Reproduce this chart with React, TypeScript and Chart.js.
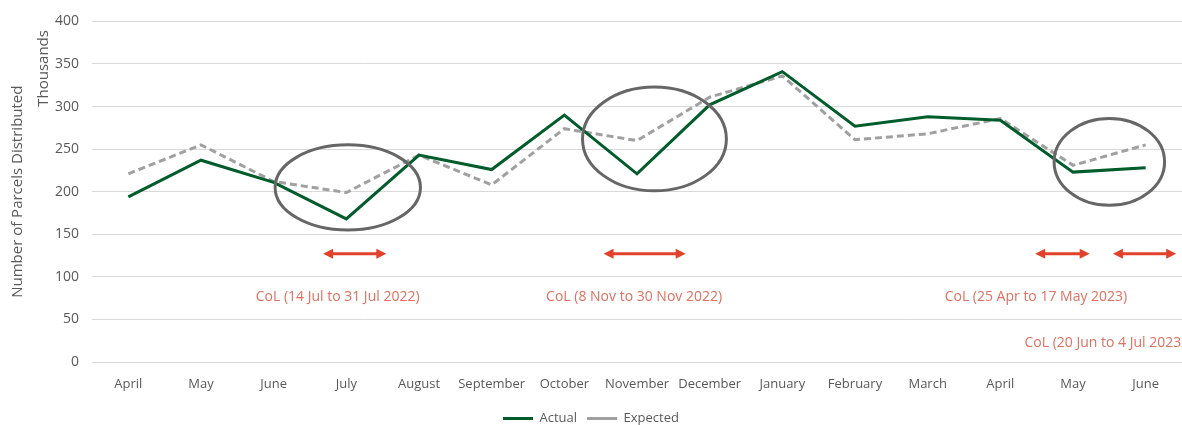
import React, { useEffect, useRef } from "react";
import { Chart, registerables } from "chart.js";

Chart.register(...registerables);

const categories = ["April", "May", "June", "July", "August", "September", "October", "November", "December", "January", "February", "March", "April", "May", "June"];
const actual = [194, 237, 211, 168, 243, 226, 290, 221, 302, 341, 277, 288, 284, 223, 228];
const expected = [221, 255, 212, 199, 243, 208, 274, 260, 311, 336, 261, 268, 286, 231, 255];
const yTicks = [0, 50, 100, 150, 200, 250, 300, 350, 400];

// annotations in data units: x = category index, y = value
const circles = [
  { cx: 3.02, cy: 205, rx: 1.0, ry: 50 },
  { cx: 7.24, cy: 262, rx: 0.99, ry: 61 },
  { cx: 13.5, cy: 235, rx: 0.76, ry: 51 },
];
const arrows = [
  { x1: 2.68, x2: 3.55, y: 127 },
  { x1: 6.54, x2: 7.67, y: 127 },
  { x1: 12.48, x2: 13.23, y: 127 },
  { x1: 13.55, x2: 14.42, y: 127 },
];
const notes = [
  { text: "CoL (14 Jul to 31 Jul 2022)", x: 2.88, y: 76, align: "center" },
  { text: "CoL (8 Nov to 30 Nov 2022)", x: 6.96, y: 76, align: "center" },
  { text: "CoL (25 Apr to 17 May 2023)", x: 12.49, y: 76, align: "center" },
  { text: "CoL (20 Jun to 4 Jul 2023", x: 14.49, y: 22, align: "right" },
];

const GREEN = "#005c2a";
const GREY = "#a0a0a0";
const TEXT = "#595959";
const RED = "#e2412a";
const NOTE = "#e0705f";
const FONT = "'Open Sans', 'Noto Sans', sans-serif";

const annotationPlugin = {
  id: "colAnnotations",
  afterDatasetsDraw(chart: any) {
    const ctx = chart.ctx;
    const xs = chart.scales.x;
    const ys = chart.scales.y;
    const unitX = xs.getPixelForValue(1) - xs.getPixelForValue(0);
    const unitY = ys.getPixelForValue(0) - ys.getPixelForValue(1);
    ctx.save();
    // ellipses
    ctx.strokeStyle = "#666666";
    ctx.lineWidth = 3;
    circles.forEach((c) => {
      const px = xs.getPixelForValue(0) + c.cx * unitX;
      const py = ys.getPixelForValue(c.cy);
      ctx.beginPath();
      ctx.ellipse(px, py, c.rx * unitX, c.ry * unitY, 0, 0, Math.PI * 2);
      ctx.stroke();
    });
    // arrows
    arrows.forEach((a) => {
      const x1 = xs.getPixelForValue(0) + a.x1 * unitX;
      const x2 = xs.getPixelForValue(0) + a.x2 * unitX;
      const y = ys.getPixelForValue(a.y);
      const head = 10;
      const hh = 5;
      ctx.strokeStyle = RED;
      ctx.fillStyle = RED;
      ctx.lineWidth = 3;
      ctx.beginPath();
      ctx.moveTo(x1 + head - 1, y);
      ctx.lineTo(x2 - head + 1, y);
      ctx.stroke();
      ctx.beginPath();
      ctx.moveTo(x1, y);
      ctx.lineTo(x1 + head, y - hh);
      ctx.lineTo(x1 + head, y + hh);
      ctx.closePath();
      ctx.fill();
      ctx.beginPath();
      ctx.moveTo(x2, y);
      ctx.lineTo(x2 - head, y - hh);
      ctx.lineTo(x2 - head, y + hh);
      ctx.closePath();
      ctx.fill();
    });
    // notes
    ctx.fillStyle = NOTE;
    ctx.font = `14px ${FONT}`;
    ctx.textBaseline = "middle";
    notes.forEach((n) => {
      const px = xs.getPixelForValue(0) + n.x * unitX;
      const py = ys.getPixelForValue(n.y);
      ctx.textAlign = n.align as CanvasTextAlign;
      ctx.fillText(n.text, px, py);
    });
    ctx.restore();
  },
  afterDraw(chart: any) {
    const ctx = chart.ctx;
    const ys = chart.scales.y;
    ctx.save();
    ctx.fillStyle = TEXT;
    ctx.font = `15px ${FONT}`;
    ctx.textAlign = "center";
    ctx.textBaseline = "middle";
    ctx.translate(44, ys.getPixelForValue(400) + 47);
    ctx.rotate(-Math.PI / 2);
    ctx.fillText("Thousands", 0, 0);
    ctx.restore();
  },
};

export default function App() {
  const ref = useRef<HTMLCanvasElement>(null);
  useEffect(() => {
    const canvas = ref.current;
    if (!canvas) return;
    const chart = new Chart(canvas, {
      type: "line",
      data: {
        labels: categories,
        datasets: [
          {
            label: "Actual",
            data: actual,
            borderColor: GREEN,
            backgroundColor: GREEN,
            borderWidth: 3,
            pointRadius: 0,
            tension: 0,
          },
          {
            label: "Expected",
            data: expected,
            borderColor: GREY,
            backgroundColor: GREY,
            borderWidth: 3,
            borderDash: [7, 4],
            pointRadius: 0,
            tension: 0,
          },
        ],
      },
      options: {
        animation: false,
        responsive: false,
        maintainAspectRatio: false,
        layout: { padding: { top: 20, right: 0, left: 0, bottom: -10 } },
        plugins: {
          tooltip: { enabled: false },
          legend: {
            position: "bottom",
            labels: {
              usePointStyle: true,
              pointStyle: "line",
              pointStyleWidth: 30,
              color: TEXT,
              font: { family: FONT, size: 13 },
              padding: 10,
            },
          },
        },
        scales: {
          x: {
            offset: true,
            grid: { display: false, drawTicks: false },
            border: { display: false },
            ticks: { color: TEXT, font: { family: FONT, size: 13 }, padding: 14, maxRotation: 0, autoSkip: false },
            afterFit(s: any) {
              s.height = 40;
            },
          },
          y: {
            min: 0,
            max: 400,
            afterBuildTicks(s: any) {
              s.ticks = yTicks.map((v) => ({ value: v }));
            },
            grid: { color: "#d9d9d9", lineWidth: 1, drawTicks: false },
            border: { display: false },
            ticks: { color: TEXT, font: { family: FONT, size: 14 }, padding: 13 },
            title: {
              display: true,
              text: "Number of Parcels Distributed",
              color: TEXT,
              font: { family: FONT, size: 15 },
              padding: { top: 9, bottom: 0 },
            },
            afterFit(s: any) {
              s.width = 92;
            },
          },
        },
      },
      plugins: [annotationPlugin],
    });
    return () => chart.destroy();
  }, []);
  return (
    <div style={{ position: "absolute", left: 0, top: 0, width: 1182, height: 425, background: "#fff" }}>
      <canvas ref={ref} width={1182} height={425} style={{ display: "block" }} />
    </div>
  );
}
